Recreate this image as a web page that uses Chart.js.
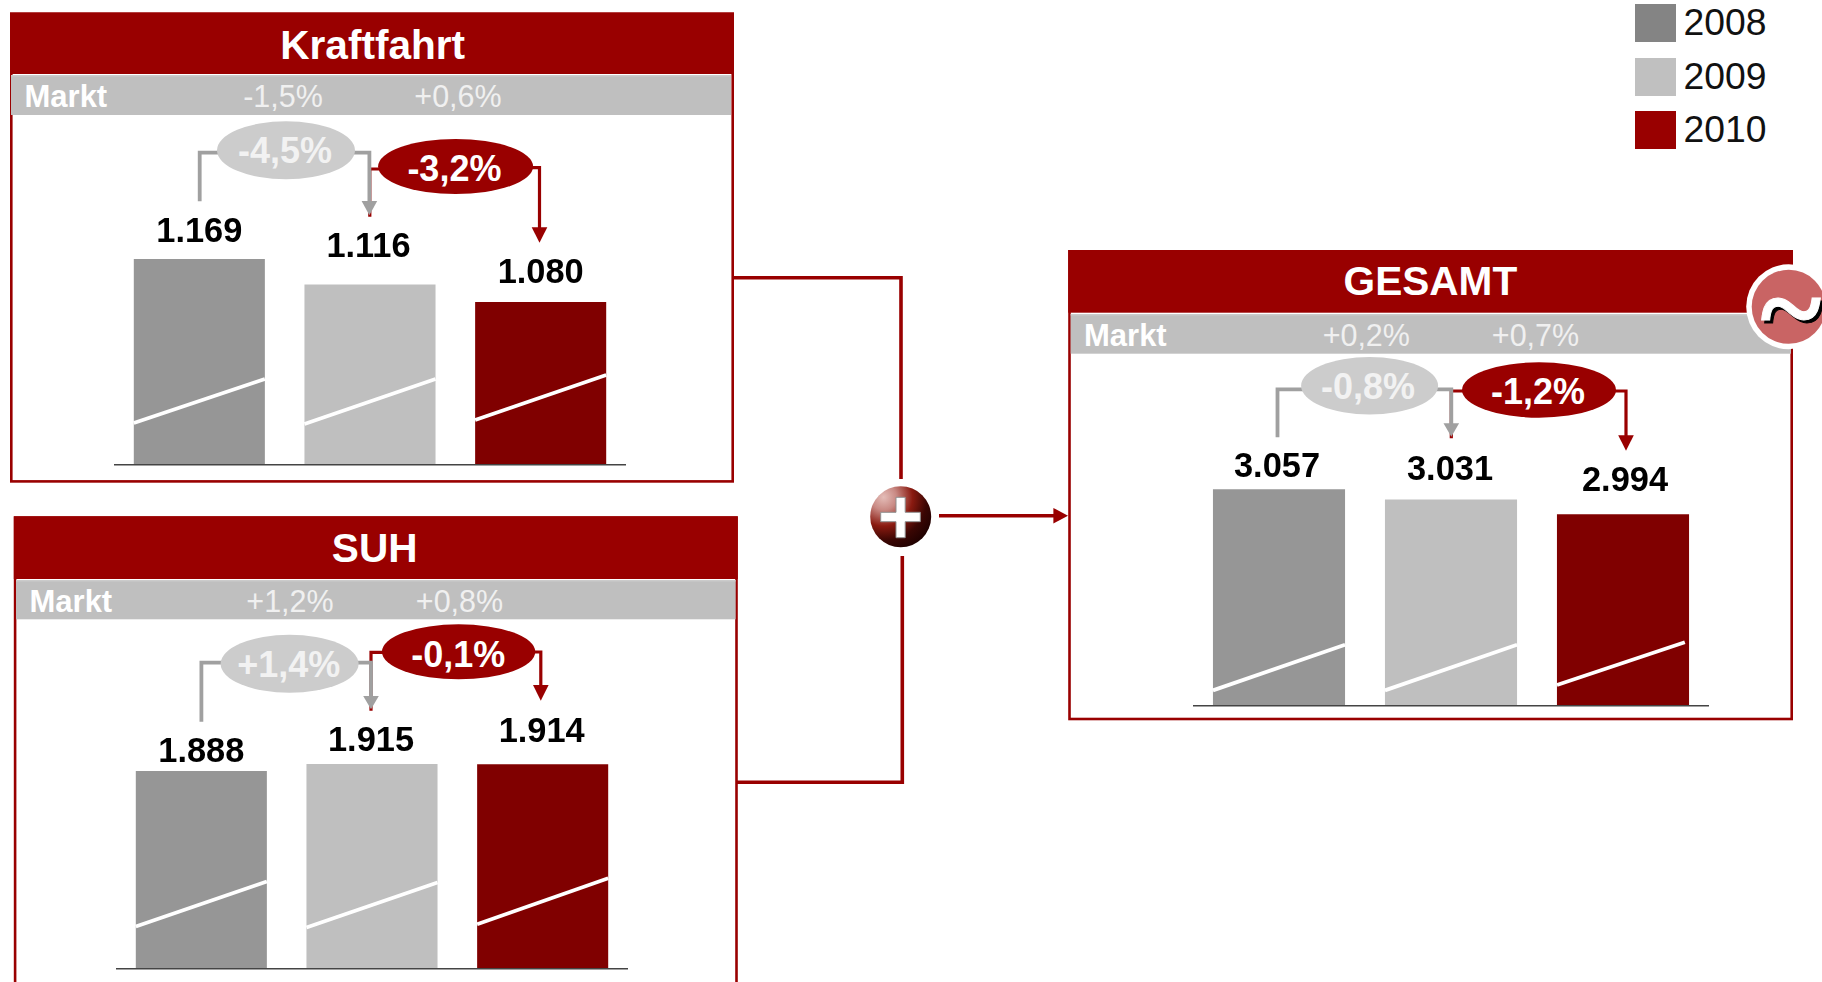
<!DOCTYPE html>
<html lang="de">
<head>
<meta charset="utf-8">
<title>Kraftfahrt, SUH, GESAMT</title>
<script src="https://cdn.jsdelivr.net/npm/chart.js@4"></script>
<style>
html,body{margin:0;padding:0;background:#fff;width:1822px;height:982px;overflow:hidden}
svg{position:absolute;left:0;top:0}
canvas{position:absolute;display:block}
text{font-family:"Liberation Sans",Arial,sans-serif}
</style>
</head>
<body>
<svg id="deco" width="1822" height="982" viewBox="0 0 1822 982" xmlns="http://www.w3.org/2000/svg"></svg>
<script>
// ---- data ----
const years = ["2008", "2009", "2010"];
const kraftfahrtValues = [1169, 1116, 1080];
const suhValues = [1888, 1915, 1914];
const gesamtValues = [3057, 3031, 2994];
const panelTitles = ["Kraftfahrt", "SUH", "GESAMT"];
const marktLabel = "Markt";
const kraftfahrtMarkt = ["-1,5%", "+0,6%"];
const suhMarkt = ["+1,2%", "+0,8%"];
const gesamtMarkt = ["+0,2%", "+0,7%"];
const kraftfahrtChange = ["-4,5%", "-3,2%"];
const suhChange = ["+1,4%", "-0,1%"];
const gesamtChange = ["-0,8%", "-1,2%"];

// ---- styles ----
const RED = "#990000", DARKRED = "#800000", G1 = "#969696", G2 = "#bfbfbf";
const barColors = [G1, G2, DARKRED];
const legendColors = ["#848484", "#c0c0c0", "#990000"];

// ---- layout ----
const layouts = [
 { title: panelTitles[0], markt: kraftfahrtMarkt, change: kraftfahrtChange, values: kraftfahrtValues,
   frame:[10,12.5,734,482.7], headB:74, band:[11,75,731,115],
   titleXY:[372.7,59.1], marktX:24.5, marktY:106.6, pctX:[283,458],
   ell1:[286,150.3,69,29], t1:[285,162.8], ell2:[455.6,166.5,77.5,27.5], t2:[454.4,181],
   g:{x0:199.7,y0:201.3,yh:152.7,xa:369.4,headTop:201,tip:216.7},
   r:{yL:169,xa:369.8,tipL:216.7,yR:167.7,xb:539.5,headTop:227.3,tip:242.7},
   canvas:{left:114,top:130,width:512,bottom:465}, yMin:742.5, yMax:1436,
   labelDX:[0,-1.5,0], labelDY:[16.7,28,18.7],
   breaks:[[42,86,1],[41,86,1],[45,90,1]] },
 { title: panelTitles[1], markt: suhMarkt, change: suhChange, values: suhValues,
   frame:[13.8,516.3,737.8,1010], headB:579, band:[16,580,735.6,619.3],
   titleXY:[374.7,561.8], marktX:29.5, marktY:611.6, pctX:[290,459.5],
   ell1:[289.6,663.8,69,29], t1:[288.7,676.8], ell2:[458.6,651.8,76.7,27.5], t2:[458.3,666.8],
   g:{x0:201.4,y0:721.7,yh:662.7,xa:371,headTop:696,tip:710.7},
   r:{yL:652.3,xa:371,tipL:710.7,yR:652,xb:540.8,headTop:685,tip:700.7},
   canvas:{left:116,top:700,width:512,bottom:969}, yMin:1123, yMax:2162,
   labelDX:[0,-1,-1], labelDY:[9.2,12.5,22.5],
   breaks:[[42.5,87.5,1],[41.5,86.5,1],[44.7,90.7,1]] },
 { title: panelTitles[2], markt: gesamtMarkt, change: gesamtChange, values: gesamtValues,
   frame:[1068.2,250,1793,720.3], headB:312.7, band:[1070.7,314,1791,353.7],
   titleXY:[1430.4,295], marktX:1084, marktY:345.9, pctX:[1366.3,1535.5],
   ell1:[1369.6,385.7,68.5,28.7], t1:[1368,398.5], ell2:[1539,390,77,27.7], t2:[1538,403.8],
   g:{x0:1277.5,y0:437.3,yh:389.3,xa:1451.3,headTop:423.3,tip:438.3},
   r:{yL:391,xa:1451.3,tipL:438.3,yR:391,xb:1626,headTop:435.3,tip:450.7},
   canvas:{left:1193,top:440,width:516,bottom:706}, yMin:2510.5, yMax:3181,
   labelDX:[-2,-1,2], labelDY:[12.2,20,23.2],
   breaks:[[15.6,61.3,1],[15.6,61.3,1],[21,63.7,0.968]] }
];

// ---- static decoration (panel frames, bands, bubbles, connectors) ----
const NS = "http://www.w3.org/2000/svg";
const svg = document.getElementById("deco");
function el(name, attrs, txt){
  const e = document.createElementNS(NS, name);
  for (const k in attrs) e.setAttribute(k, attrs[k]);
  if (txt !== undefined) e.textContent = txt;
  svg.appendChild(e); return e;
}
function txt(s, x, y, size, weight, fill, anchor){
  return el("text", {x, y, "font-size":size, "font-weight":weight, fill, "text-anchor":anchor||"middle"}, s);
}
function poly(pts, color, w){
  el("polyline", {points:pts.map(p=>p.join(",")).join(" "), fill:"none", stroke:color, "stroke-width":w});
}
function head(x, top, tip, color){
  el("polygon", {points:`${x-7.8},${top} ${x+7.8},${top} ${x},${tip}`, fill:color});
}

// connectors between the panels
poly([[733,277.7],[901,277.7],[901,479]], RED, 3.6);
poly([[737,782.3],[902.3,782.3],[902.3,556]], RED, 3.6);
poly([[939,515.7],[1055,515.7]], RED, 3.4);
el("polygon", {points:"1053.4,507.9 1053.4,523.5 1068,515.7", fill:RED});

// gradient for the plus button
const defs = el("defs", {});
defs.innerHTML = `<radialGradient id="plusGrad" cx="0.22" cy="0.18" r="0.95">
  <stop offset="0" stop-color="#e4bdb8"/><stop offset="0.22" stop-color="#c98a84"/>
  <stop offset="0.5" stop-color="#8a1a10"/><stop offset="0.75" stop-color="#3a0603"/>
  <stop offset="1" stop-color="#1c0000"/></radialGradient>`;

layouts.forEach(p => {
  const [l,t,r,b] = p.frame;
  el("rect", {x:l+1.3,y:t+1.3,width:r-l-2.6,height:b-t-2.6,fill:"#fff",stroke:RED,"stroke-width":2.6});
  el("rect", {x:l,y:t,width:r-l,height:p.headB-t,fill:RED});
  const [bl,bt,br,bb] = p.band;
  el("rect", {x:bl,y:bt,width:br-bl,height:bb-bt,fill:"#bfbfbf"});
  el("rect", {x:bl,y:bt,width:br-bl,height:1.5,fill:"#cbcbcb"});
  txt(p.title, p.titleXY[0], p.titleXY[1], 40.6, "bold", "#fff");
  txt(marktLabel, p.marktX, p.marktY, 31, "bold", "#fff", "start");
  txt(p.markt[0], p.pctX[0], p.marktY, 30.5, "normal", "#f0f0f0");
  txt(p.markt[1], p.pctX[1], p.marktY, 30.5, "normal", "#f0f0f0");

  // red connector beneath the grey one
  const R = p.r, G = p.g;
  poly([[p.ell2[0]-p.ell2[2]+2,R.yL],[R.xa,R.yL],[R.xa,R.tipL]], RED, 3.2);
  poly([[p.ell2[0]+p.ell2[2]-2,R.yR],[R.xb,R.yR],[R.xb,R.headTop+2]], RED, 3.2);
  head(R.xb, R.headTop, R.tip, RED);
  poly([[G.x0,G.y0],[G.x0,G.yh],[p.ell1[0]-p.ell1[2]+2,G.yh]], "#a0a0a0", 3.8);
  poly([[p.ell1[0]+p.ell1[2]-2,G.yh],[G.xa,G.yh],[G.xa,G.headTop+2]], "#a0a0a0", 3.8);
  head(G.xa, G.headTop, G.tip-1.5, "#a0a0a0");

  el("ellipse", {cx:p.ell1[0],cy:p.ell1[1],rx:p.ell1[2],ry:p.ell1[3],fill:"#cccccc"});
  txt(p.change[0], p.t1[0], p.t1[1], 36, "bold", "#f2f2f2");
  el("ellipse", {cx:p.ell2[0],cy:p.ell2[1],rx:p.ell2[2],ry:p.ell2[3],fill:RED});
  txt(p.change[1], p.t2[0], p.t2[1], 36, "bold", "#fff");
});

// plus button
el("circle", {cx:900.7,cy:516.7,r:30.5,fill:"url(#plusGrad)"});
el("path", {d:"M896 497.3h9.2v15h15.1v9.4h-15.1v16h-9.2v-16h-15.3v-9.4h15.3z",fill:"#fff",stroke:"#8f8f8f","stroke-width":1});

// tilde badge
el("circle", {cx:1788.7,cy:306.8,r:42.5,fill:"#fff"});
el("circle", {cx:1788.7,cy:306.8,r:37,fill:"#c96464"});
el("text", {x:1794,y:349.5,"font-size":116,"font-weight":"bold",fill:"#000",stroke:"#000","stroke-width":1,"text-anchor":"middle",style:"font-family:'Liberation Serif',serif"}, "~");
el("text", {x:1791,y:346.5,"font-size":116,"font-weight":"bold",fill:"#fff",stroke:"#fff","stroke-width":1,"text-anchor":"middle",style:"font-family:'Liberation Serif',serif"}, "~");

// legend
const legendY = [4, 58, 111], legendBase = [35, 89, 142];
years.forEach((y, i) => {
  el("rect", {x:1635,y:legendY[i],width:41,height:38,fill:legendColors[i]});
  txt(y, 1683.5, legendBase[i], 37.3, "normal", "#111", "start");
});

// ---- charts ----
const deFormat = v => String(v).replace(/\B(?=(\d{3})+$)/g, ".");

const annotate = {
  id: "annotate",
  afterDatasetsDraw(chart, args, opts){
    const ctx = chart.ctx, meta = chart.getDatasetMeta(0);
    const base = chart.scales.y.getPixelForValue(chart.scales.y.min);
    ctx.save();
    meta.data.forEach((bar, i) => {
      // axis break stroke across each bar
      const half = bar.width / 2, b = opts.breaks[i];
      ctx.strokeStyle = "#fff"; ctx.lineWidth = 3.8; ctx.lineCap = "butt";
      ctx.beginPath();
      ctx.moveTo(bar.x - half, base - b[0]);
      ctx.lineTo(bar.x - half + bar.width * b[2], base - b[1]);
      ctx.stroke();
      // value label
      ctx.fillStyle = "#000";
      ctx.font = 'bold 34.4px "Liberation Sans", Arial, sans-serif';
      ctx.textAlign = "center"; ctx.textBaseline = "alphabetic";
      ctx.fillText(deFormat(chart.data.datasets[0].data[i]), bar.x + opts.labelDX[i], bar.y - opts.labelDY[i]);
    });
    ctx.restore();
  }
};

layouts.forEach(p => {
  const c = p.canvas, cv = document.createElement("canvas");
  cv.width = c.width; cv.height = c.bottom - c.top + 2;
  cv.style.left = c.left + "px"; cv.style.top = c.top + "px";
  cv.style.width = c.width + "px"; cv.style.height = (c.bottom - c.top + 2) + "px";
  document.body.appendChild(cv);
  new Chart(cv.getContext("2d"), {
    type: "bar",
    plugins: [annotate],
    data: { labels: years, datasets: [{ label: p.title, data: p.values, backgroundColor: barColors,
      borderWidth: 0, barPercentage: 0.768, categoryPercentage: 1 }] },
    options: {
      responsive: false, animation: false, devicePixelRatio: 1,
      layout: { padding: { left: 0, right: 0, top: 0, bottom: 2 } },
      plugins: { legend: { display: false }, tooltip: { enabled: false }, title: { display: false },
        annotate: { breaks: p.breaks, labelDX: p.labelDX, labelDY: p.labelDY } },
      scales: {
        x: { display: true, grid: { display: false, drawTicks: false }, ticks: { display: false },
             border: { display: true, color: "#444", width: 1.5, z: 2 } },
        y: { display: false, min: p.yMin, max: p.yMax }
      }
    }
  });
});
</script>
</body>
</html>
